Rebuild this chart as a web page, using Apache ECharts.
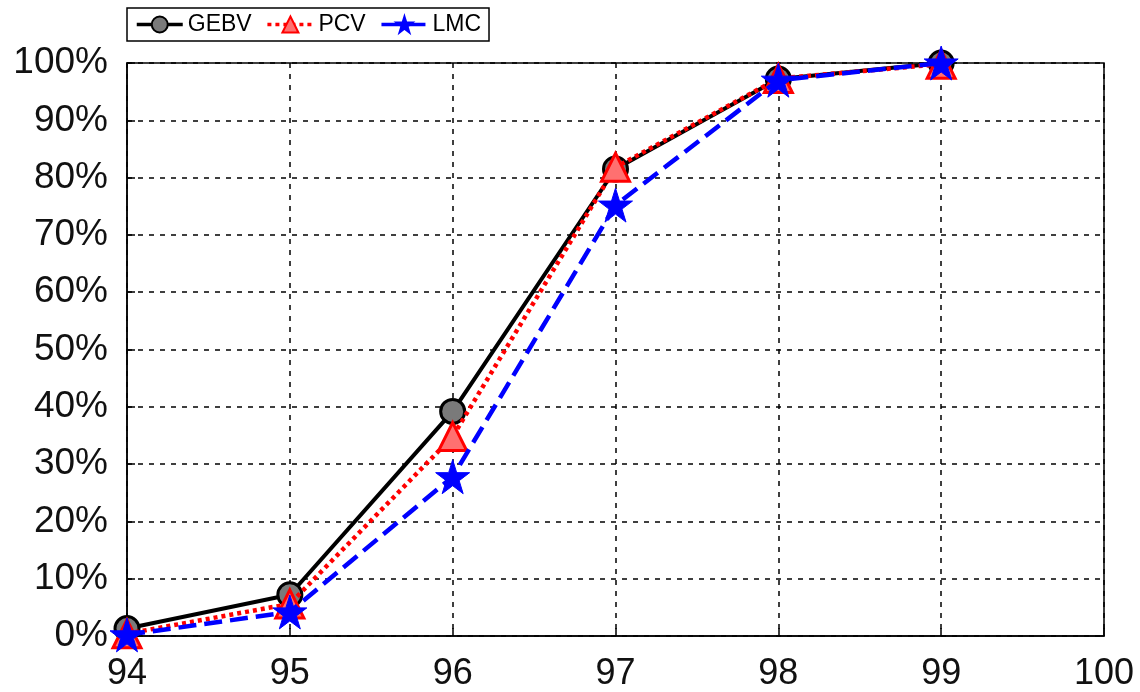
<!DOCTYPE html>
<html><head><meta charset="utf-8">
<script src="https://cdn.jsdelivr.net/npm/echarts@6/dist/echarts.min.js"></script>
<style>html,body{margin:0;padding:0;background:#fff}#c{width:1140px;height:692px}</style>
</head><body><div id="c"></div>
<script>
const xValues = [94, 95, 96, 97, 98, 99];
const gebv = [1.3, 7.2, 39.2, 81.5, 97.2, 100];
const pcv = [0.4, 5.6, 34.8, 81.8, 97.3, 99.8];
const lmc = [0.2, 4.2, 27.8, 75.2, 97.0, 100];
const seriesNames = ['GEBV', 'PCV', 'LMC'];

const pair = arr => xValues.map((x, i) => [x, arr[i]]);
const chart = echarts.init(document.getElementById('c'));
const font = 'Liberation Sans, Arial, sans-serif';
chart.setOption({
  animation: false,
  grid: {left: 127, right: 36, top: 63, bottom: 55, show: true, borderColor: '#000', borderWidth: 1.5},
  legend: {
    left: 127, top: 8, padding: [5, 8], itemGap: 14, itemWidth: 46, itemHeight: 20,
    borderColor: '#000', borderWidth: 1.5, backgroundColor: '#fff',
    textStyle: {fontSize: 23, fontFamily: font, color: '#000'},
    lineStyle: {width: 3.5},
    data: seriesNames
  },
  xAxis: {
    type: 'value', min: 94, max: 100, interval: 1,
    axisLine: {lineStyle: {color: '#000', width: 1.5}},
    axisTick: {inside: true, length: 8, lineStyle: {color: '#000', width: 1.5}},
    axisLabel: {fontSize: 36, fontFamily: font, color: '#111', margin: 20},
    splitLine: {show: true, lineStyle: {color: '#000', width: 1.5, type: [5, 6]}}
  },
  yAxis: {
    type: 'value', min: 0, max: 100, interval: 10,
    axisLine: {show: true, lineStyle: {color: '#000', width: 1.5}},
    axisTick: {show: true, inside: true, length: 8, lineStyle: {color: '#000', width: 1.5}},
    axisLabel: {fontSize: 37, fontFamily: font, color: '#111', margin: 19, formatter: '{value}%'},
    splitLine: {show: true, lineStyle: {color: '#000', width: 1.5, type: [5, 6]}}
  },
  series: [
    {name: 'GEBV', type: 'line', data: pair(gebv), symbol: 'circle', symbolSize: 24,
     lineStyle: {color: '#000', width: 4},
     itemStyle: {color: '#7a7a7a', borderColor: '#000', borderWidth: 3}, z: 2},
    {name: 'PCV', type: 'line', data: pair(pcv), symbol: 'triangle', symbolSize: 28,
     lineStyle: {color: '#ff0000', width: 4.5, type: [4, 4]},
     itemStyle: {color: '#ff7070', borderColor: '#ff0000', borderWidth: 3}, z: 3},
    {name: 'LMC', type: 'line', data: pair(lmc), symbol: 'path://M50,0 L61.8,36.2 L100,36.2 L69.1,58.6 L80.9,95 L50,72.6 L19.1,95 L30.9,58.6 L0,36.2 L38.2,36.2 Z', symbolSize: 34,
     lineStyle: {color: '#0000ff', width: 4.5, type: [18, 8]},
     itemStyle: {color: '#0000ff', borderColor: '#0000ff', borderWidth: 1}, z: 4}
  ]
});
</script></body></html>
